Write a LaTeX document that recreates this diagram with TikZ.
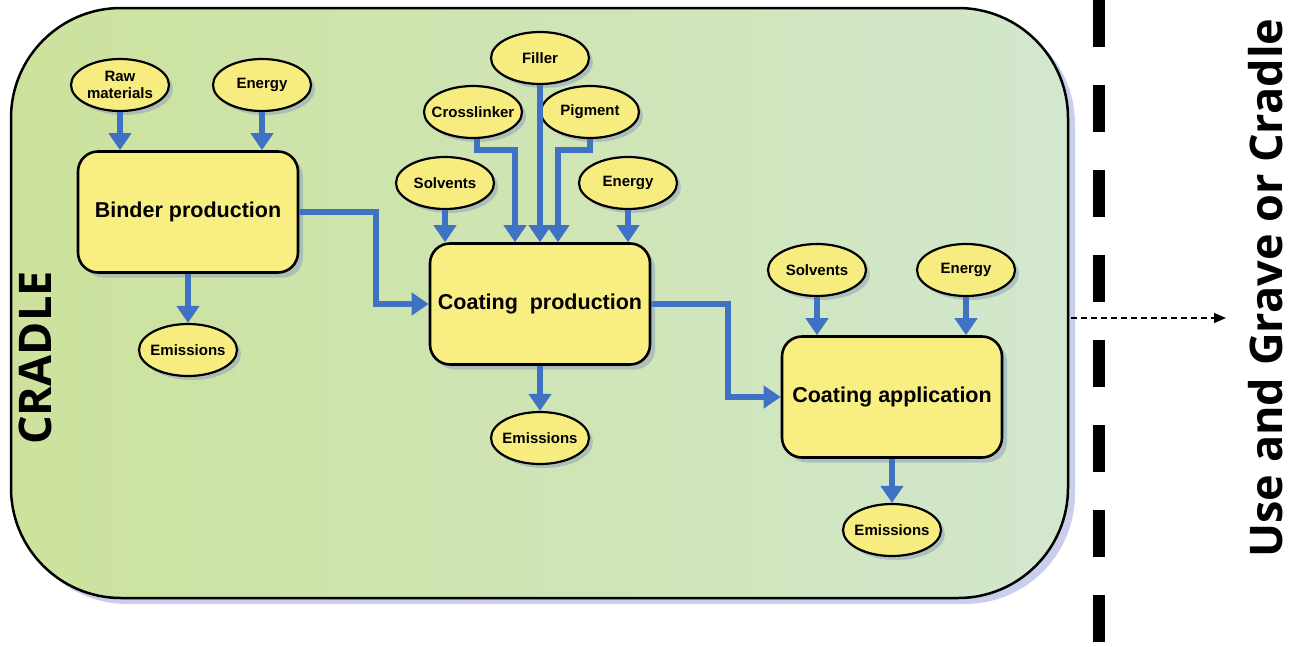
\documentclass[tikz,border=0pt]{standalone}
\usepackage{fontspec}
\setmainfont{Liberation Sans}
\newfontfamily\opensans{Open Sans}
\usetikzlibrary{arrows.meta,shapes.geometric,shadows}
\definecolor{bgL}{RGB}{204,226,156}
\definecolor{bgR}{RGB}{210,231,205}
\definecolor{bgShadow}{RGB}{200,206,236}
\definecolor{nodey}{RGB}{247,236,128}
\definecolor{boxy}{RGB}{248,238,130}
\definecolor{flowblue}{RGB}{64,114,196}
\definecolor{shadc}{RGB}{150,168,188}
\tikzset{
  ell/.style={ellipse, draw=black, line width=2.2pt, fill=nodey,
    minimum width=98pt, minimum height=52pt, inner xsep=-13pt, inner ysep=0pt, align=center,
    font=\fontsize{15}{16.5}\selectfont\bfseries,
    drop shadow={shadow xshift=4pt, shadow yshift=-4pt, fill=shadc, opacity=.6}},
  proc/.style={rectangle, rounded corners=20pt, draw=black, line width=2.6pt, fill=boxy,
    minimum width=220pt, minimum height=121pt, inner sep=0pt,
    font=\fontsize{21.5}{23}\selectfont\bfseries,
    drop shadow={shadow xshift=5pt, shadow yshift=-5pt, fill=shadc, opacity=.6}},
  flow/.style={draw=flowblue, line width=6pt, -{Triangle[width=22pt,length=17pt]}},
  bigtext/.style={font=\opensans\bfseries\fontsize{45}{50}\selectfont, inner sep=0pt}
}
\begin{document}
\begin{tikzpicture}[x=1pt,y=-1pt]
\useasboundingbox (0,0) rectangle (1298,646);
% cradle boundary
\fill[bgShadow] (17,14) [rounded corners=110pt] rectangle (1075,604);
\draw[line width=2.5pt, rounded corners=110pt, left color=bgL, middle color=bgL!80!bgR, right color=bgR]
  (11,8) rectangle (1068,598);
\node[bigtext, rotate=90] (cradle) at (35,358) {CRADLE};

% binder production
\node[ell] (rm) at (120,85) {Raw\\materials};
\node[ell] (e1) at (262,85) {Energy};
\node[proc] (bp) at (188,212) {Binder production};
\node[ell] (em1) at (188,350) {Emissions};

% coating production
\node[ell] (fi) at (540,58) {Filler};
\node[ell] (cl) at (473,112) {Crosslinker};
\node[ell] (pg) at (590,112) {Pigment};
\node[ell] (sv2) at (445,183) {Solvents};
\node[ell] (e2) at (628,183) {Energy};
\node[proc] (cp) at (540,304) {Coating\ \ production};
\node[ell] (em2) at (540,438) {Emissions};

% coating application
\node[ell] (sv3) at (817,270) {Solvents};
\node[ell] (e3) at (966,270) {Energy};
\node[proc] (ca) at (892,397) {Coating application};
\node[ell] (em3) at (892,530) {Emissions};

% flows
\draw[flow] (rm.south) -- (rm.south |- bp.north);
\draw[flow] (e1.south) -- (e1.south |- bp.north);
\draw[flow] (bp.south) -- (em1.north);
\draw[flow] (bp.east) -- ++(77,0) |- (cp.west);

\draw[flow] (sv2.south) -- (sv2.south |- cp.north);
\draw[flow] (e2.south) -- (e2.south |- cp.north);
\draw[flow] (fi.south) -- (fi.south |- cp.north);
\draw[flow] ([xshift=4pt]cl.south) -- ++(0,11) -| ([xshift=-25pt]cp.north);
\draw[flow] (pg.south) -- ++(0,11) -| ([xshift=18pt]cp.north);
\draw[flow] (cp.south) -- (em2.north);
\draw[flow] (cp.east) -- ++(77,0) |- (ca.west);

\draw[flow] (sv3.south) -- (sv3.south |- ca.north);
\draw[flow] (e3.south) -- (e3.south |- ca.north);
\draw[flow] (ca.south) -- (em3.north);

% boundary line and exit
\draw[line width=12pt, dash pattern=on 47pt off 38pt] (1099,0) -- (1099,646);
\coordinate (exitL) at (1071,318);
\coordinate (exitR) at (1226,318);
\draw[line width=1.3pt, dash pattern=on 6pt off 4pt, -{Triangle[width=10pt,length=12pt]}] (exitL) -- (exitR);
\node[bigtext, rotate=90] (side) at (1266,288) {Use and Grave or Cradle};
\end{tikzpicture}
\end{document}
